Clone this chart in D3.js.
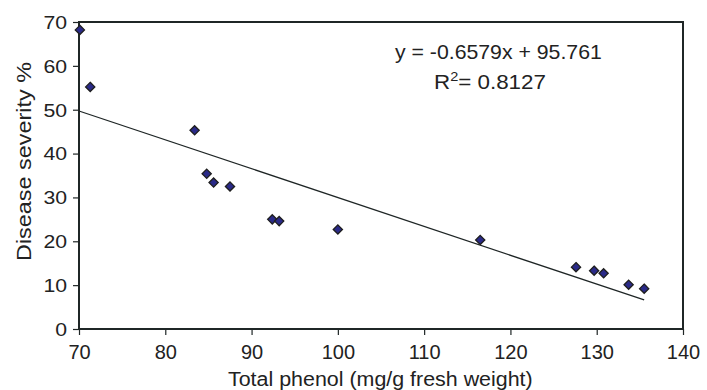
<!DOCTYPE html>
<html>
<head>
<meta charset="utf-8">
<script src="https://cdn.jsdelivr.net/npm/d3@7"></script>
<style>
  html, body { margin: 0; padding: 0; background: #fff; }
  svg { display: block; font-family: "Liberation Sans", Arial, sans-serif; }
</style>
</head>
<body>
<svg id="chart" width="707" height="390"></svg>
<script>
// ---- data ----
const phenol = [70.1, 71.3, 83.4, 84.8, 85.6, 87.5, 92.4, 93.2, 100.0, 116.5, 127.6, 129.7, 130.8, 133.7, 135.5];
const severity = [68.2, 55.2, 45.3, 35.4, 33.4, 32.5, 25.0, 24.6, 22.7, 20.3, 14.1, 13.3, 12.7, 10.1, 9.2];
const xTicks = [70, 80, 90, 100, 110, 120, 130, 140];
const yTicks = [0, 10, 20, 30, 40, 50, 60, 70];
const slope = -0.6579, intercept = 95.761;
const eqText = "y = -0.6579x + 95.761";
const r2Text = "0.8127";
const xTitle = "Total phenol (mg/g fresh weight)";
const yTitle = "Disease severity %";

// ---- layout ----
const mLeft = 79, mRight = 683, mTop = 22, mBottom = 329;
const svg = d3.select("#chart");
const x = d3.scaleLinear().domain([70, 140]).range([mLeft, mRight]);
const y = d3.scaleLinear().domain([0, 70]).range([mBottom, mTop]);
const ink = "#1f2626";

// scale a text horizontally to a target width, anchored at its x
function fit(sel, target) {
  const node = sel.node();
  const w = node.getBBox().width;
  const s = target / w;
  const ax = +sel.attr("x"), ay = +sel.attr("y");
  sel.attr("transform", `translate(${ax},${ay}) scale(${s},1) translate(${-ax},${-ay})`);
}

// axes
const xAxis = svg.append("g").attr("transform", `translate(0,${mBottom})`)
  .call(d3.axisBottom(x).tickValues(xTicks).tickSize(6).tickPadding(0).tickFormat(d3.format("d")));
xAxis.select(".domain").remove();
xAxis.selectAll(".tick line").attr("stroke", ink).attr("stroke-width", 1.2);
xAxis.selectAll(".tick text").attr("dy", null).attr("y", 30)
  .attr("font-size", 20).attr("fill", "#222").attr("font-family", "Liberation Sans, Arial, sans-serif");

const yAxis = svg.append("g").attr("transform", `translate(${mLeft},0)`)
  .call(d3.axisLeft(y).tickValues(yTicks).tickSize(6).tickFormat(d3.format("d")));
yAxis.select(".domain").remove();
yAxis.selectAll(".tick line").attr("stroke", ink).attr("stroke-width", 1.2);
yAxis.selectAll(".tick text").attr("dy", "0.35em").attr("x", -12)
  .attr("font-size", 18).attr("fill", "#222").attr("font-family", "Liberation Sans, Arial, sans-serif")
  .attr("transform", "translate(-12,0) scale(1.18,1) translate(12,0)");

// frame
svg.append("rect").attr("x", mLeft).attr("y", mTop)
  .attr("width", mRight - mLeft).attr("height", mBottom - mTop)
  .attr("fill", "none").attr("stroke", ink).attr("stroke-width", 2);

// trend line
const x0 = 70, x1 = d3.max(phenol);
svg.append("line")
  .attr("x1", x(x0)).attr("y1", y(slope * x0 + intercept))
  .attr("x2", x(x1)).attr("y2", y(slope * x1 + intercept))
  .attr("stroke", ink).attr("stroke-width", 1.3);

// points
const r = 4.6;
svg.append("g").selectAll("path").data(phenol.map((p, i) => [p, severity[i]])).join("path")
  .attr("d", `M0,${-r}L${r},0L0,${r}L${-r},0Z`)
  .attr("transform", d => `translate(${x(d[0])},${y(d[1])})`)
  .attr("fill", "#2a2a88").attr("stroke", "#1e1e1e").attr("stroke-width", 1.3);

// equation
const eq = svg.append("text").attr("x", 395).attr("y", 59.5)
  .attr("font-size", 20).attr("fill", "#222").text(eqText);
fit(eq, 207);
const r2 = svg.append("text").attr("x", 434).attr("y", 89)
  .attr("font-size", 20).attr("fill", "#222");
r2.append("tspan").text("R");
r2.append("tspan").attr("font-size", 13).attr("dy", -8).text("2");
r2.append("tspan").attr("dy", 8).text("= " + r2Text);
fit(r2, 112);

// axis titles
const xt = svg.append("text").attr("x", 228).attr("y", 386)
  .attr("font-size", 19.5).attr("fill", "#222").text(xTitle);
fit(xt, 305);

svg.append("text").attr("transform", "translate(31,161.5) rotate(-90)")
  .attr("text-anchor", "middle").attr("font-size", 21).attr("fill", "#222")
  .attr("textLength", 199).attr("lengthAdjust", "spacingAndGlyphs").text(yTitle);
</script>
</body>
</html>
